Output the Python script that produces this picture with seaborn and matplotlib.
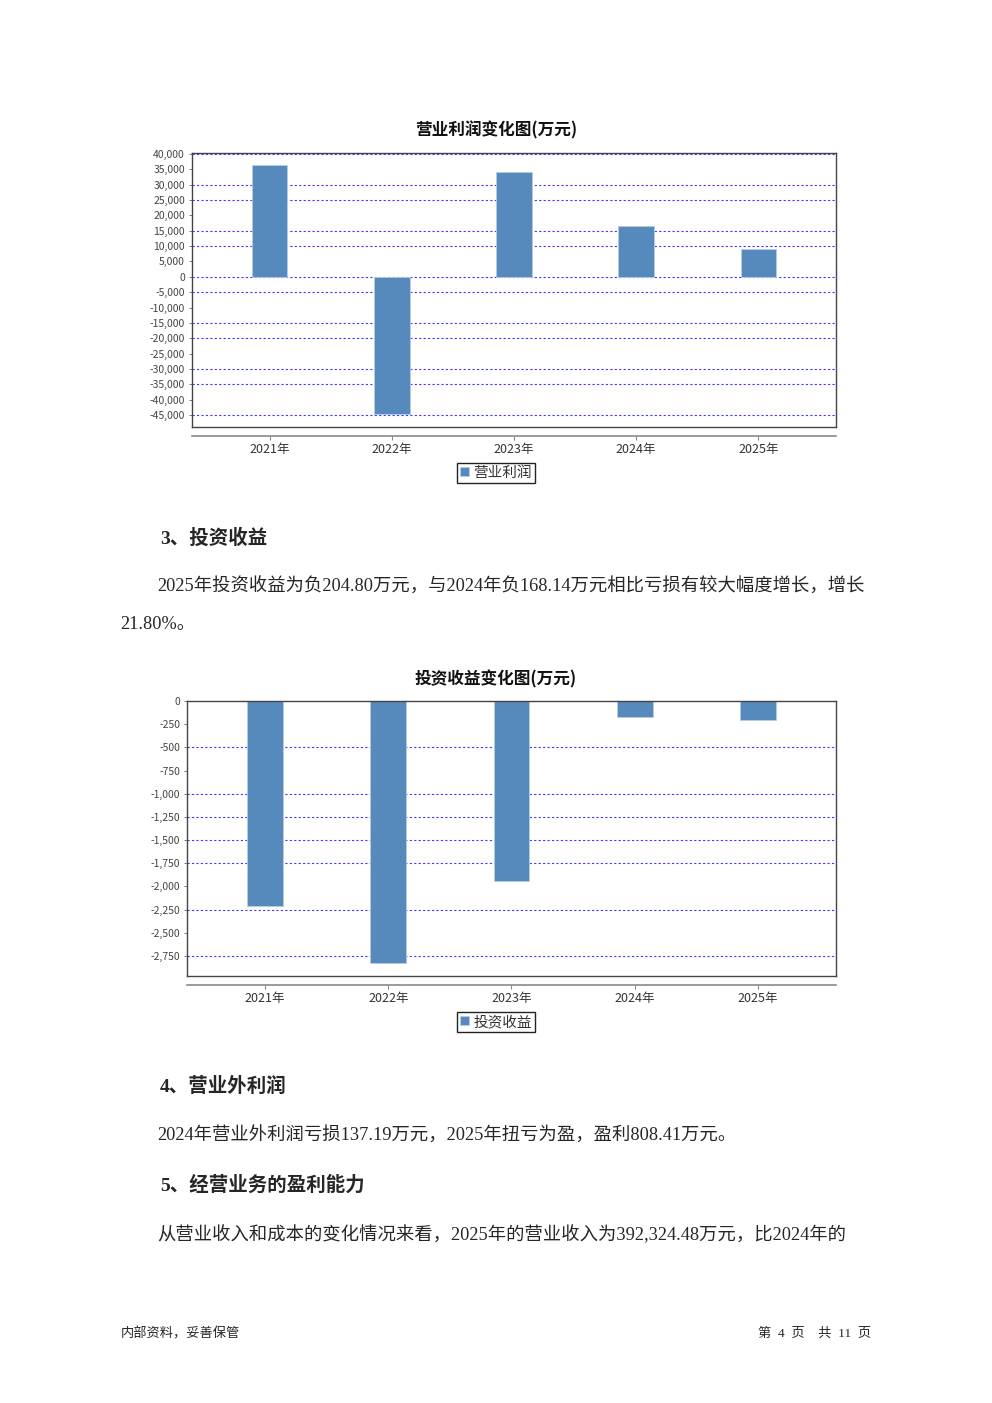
"""
营业利润 / 投资收益 变化图 (报告第4页)
"""
import matplotlib
matplotlib.use('Agg')
import matplotlib.pyplot as plt
import seaborn as sns
import numpy as np
import pandas as pd
from matplotlib.ticker import FuncFormatter

# 数据
years = ['2021年', '2022年', '2023年', '2024年', '2025年']
op_profit = [36400, -44550, 34100, 16400, 9000]          # 营业利润(万元)
invest_income = [-2208, -2823, -1945, -168.14, -204.80]   # 投资收益(万元)

sns.set_style('white')
plt.rcParams['font.family'] = ['Noto Sans CJK SC', 'DejaVu Sans']
plt.rcParams['axes.unicode_minus'] = False

BAR = '#5689bc'
GRID = '#3b3bff'
W, H = 992, 1403
SERIF = ['Liberation Serif', 'Noto Sans CJK SC']

fig = plt.figure(figsize=(W / 100, H / 100), dpi=100)


def fx(x):
    return x / W


def fy(y):
    return 1 - y / H


def draw_chart(box, values, title, label, ticks, hidden, title_y, legend_y):
    """画一个柱状图, box = (左, 上, 右, 下) 像素"""
    l, t, r, b = box
    ax = fig.add_axes([fx(l), fy(b), (r - l) / W, (b - t) / H])
    df = pd.DataFrame({'year': years, 'value': values})
    sns.barplot(data=df, x='year', y='value', color=BAR, saturation=1,
                width=0.29, edgecolor='#b8cde4', linewidth=0.6,
                label=label, ax=ax, zorder=3)
    ax.set_xlim(-0.635, 4.635)
    ax.set_ylim(ticks[0], ticks[1])
    yt = np.arange(ticks[2], ticks[3] + 1, ticks[4])
    ax.set_yticks(yt)
    ax.yaxis.set_major_formatter(FuncFormatter(lambda v, p: f'{v:,.0f}'))
    ax.grid(False)
    # 原图中部分网格线缺失
    for v in yt:
        if int(round(v / ticks[4])) not in hidden:
            ax.axhline(v, color=GRID, linestyle=(0, (2, 2)), linewidth=0.8,
                       zorder=1)
    for sp in ax.spines.values():
        sp.set_visible(True)
        sp.set_color('#444444')
        sp.set_linewidth(1.0)
        sp.set_zorder(4)
    ax.tick_params(axis='y', left=True, length=2, width=0.6, color='#666666',
                   labelsize=7.5, labelcolor='#444444', pad=3)
    ax.tick_params(axis='x', bottom=False, labelbottom=False)
    ax.set_xlabel('')
    ax.set_ylabel('')

    # 分离的分类轴
    sec = ax.secondary_xaxis(-9 / (b - t))
    sec.set_xticks(range(len(years)), labels=years)
    sec.spines['bottom'].set_color('#8a8a8a')
    sec.spines['bottom'].set_linewidth(1.2)
    sec.tick_params(length=3, width=0.8, color='#8a8a8a', labelsize=9,
                    labelcolor='#333333', pad=2)

    fig.text(fx(496), fy(title_y), title, ha='center', va='center',
             fontsize=12, fontweight='bold', color='#111111')

    handles, labels = ax.get_legend_handles_labels()
    leg = ax.legend(handles, labels, loc='center',
                    bbox_to_anchor=(fx(496), fy(legend_y)),
                    bbox_transform=fig.transFigure, frameon=True,
                    fancybox=False, edgecolor='#222222', framealpha=1,
                    fontsize=10.5, handlelength=0.6, handleheight=0.6,
                    handletextpad=0.3, borderpad=0.2, borderaxespad=0)
    leg.get_frame().set_linewidth(1.0)
    for txt in leg.get_texts():
        txt.set_color('#333333')
    return ax


draw_chart((192, 153, 836, 427), op_profit, '营业利润变化图(万元)', '营业利润',
           (-48900, 40300, -45000, 40000, 5000), {7, 4, 1, -2, -5, -8},
           130, 473)
draw_chart((187, 701, 836, 976), invest_income, '投资收益变化图(万元)', '投资收益',
           (-2966, 0, -2750, 0, 250), {0, -1, -3, -8, -10},
           679, 1022)

# 正文
fig.text(fx(160), fy(538), '3、投资收益', fontsize=14, fontweight='bold',
         family=SERIF, va='center', ha='left')
fig.text(fx(157), fy(587),
         '2025年投资收益为负204.80万元，与2024年负168.14万元相比亏损有较大幅度增长，增长',
         fontsize=13.2, family=SERIF, va='center', ha='left')
fig.text(fx(120), fy(625), '21.80%。', fontsize=13.2, family=SERIF,
         va='center', ha='left')
fig.text(fx(160), fy(1086), '4、营业外利润', fontsize=14, fontweight='bold',
         family=SERIF, va='center', ha='left')
fig.text(fx(157), fy(1136),
         '2024年营业外利润亏损137.19万元，2025年扭亏为盈，盈利808.41万元。',
         fontsize=13.2, family=SERIF, va='center', ha='left')
fig.text(fx(160), fy(1185), '5、经营业务的盈利能力', fontsize=14,
         fontweight='bold', family=SERIF, va='center', ha='left')
fig.text(fx(157), fy(1235),
         '从营业收入和成本的变化情况来看，2025年的营业收入为392,324.48万元，比2024年的',
         fontsize=13.2, family=SERIF, va='center', ha='left')

# 页脚
fig.text(fx(121), fy(1334), '内部资料，妥善保管', fontsize=9.5, family=SERIF,
         va='center', ha='left')
fig.text(fx(871), fy(1334), '第  4  页    共  11  页', fontsize=9.5,
         family=SERIF, va='center', ha='right')

fig.savefig('out.png', dpi=100)
plt.close(fig)
